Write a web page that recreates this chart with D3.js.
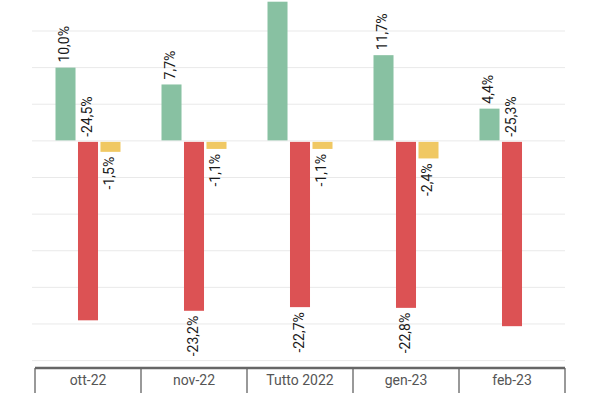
<!DOCTYPE html>
<html>
<head>
<meta charset="utf-8">
<script src="https://cdn.jsdelivr.net/npm/d3@7"></script>
<style>
  body { margin: 0; background: #fff; }
  text { font-family: Roboto, "Noto Sans", sans-serif; }
</style>
</head>
<body>
<div id="chart"></div>
<script>
// Chart data
var categories = ["ott-22", "nov-22", "Tutto 2022", "gen-23", "feb-23"];
var seriesNames = ["verde", "rosso", "giallo"];
var greenValues = [10.0, 7.7, 19.0, 11.7, 4.4];
var redValues = [-24.5, -23.2, -22.7, -22.8, -25.3];
var yellowValues = [-1.5, -1.1, -1.1, -2.4, null];
var gridTicks = [-30, -25, -20, -15, -10, -5, 0, 5, 10, 15];

var colors = { verde: "#88c1a2", rosso: "#dc5254", giallo: "#f0c863" };

var svgWidth = 600;
var svgHeight = 400;

var svg = d3.select("#chart")
            .append("svg")
            .attr("width", svgWidth)
            .attr("height", svgHeight);

// Scales
var x = d3.scaleBand()
          .domain(categories)
          .range([35, 565]);

var xInner = d3.scaleBand()
               .domain(seriesNames)
               .range([0, 65])
               .paddingInner(0.11);

var y = d3.scaleLinear()
          .domain([-30, 15])
          .range([360.6, 31]);

// Gridlines
svg.append("g")
   .selectAll("line")
   .data(gridTicks)
   .enter()
   .append("line")
   .attr("x1", 32)
   .attr("x2", 565)
   .attr("y1", d => y(d))
   .attr("y2", d => y(d))
   .attr("stroke", "#e9e9e9")
   .attr("stroke-width", 1);

// Build rows for the bars
var rows = [];
categories.forEach((c, i) => {
  rows.push({ cat: c, s: "verde", v: greenValues[i] });
  rows.push({ cat: c, s: "rosso", v: redValues[i] });
  if (yellowValues[i] != null) rows.push({ cat: c, s: "giallo", v: yellowValues[i] });
});

function barX(d) {
  return x(d.cat) + (x.bandwidth() - 65) / 2 + xInner(d.s);
}

var bars = svg.append("g");
bars.selectAll("rect")
    .data(rows)
    .enter()
    .append("rect")
    .attr("x", d => barX(d))
    .attr("width", xInner.bandwidth())
    .attr("y", d => d.v >= 0 ? y(d.v) : y(0) + 1)
    .attr("height", d => Math.max(0, d.v >= 0 ? y(0) - y(d.v) - 0.5 : y(d.v) - y(0) - 1))
    .attr("fill", d => colors[d.s]);

// Value labels (rotated)
var fmt = v => v.toFixed(1).replace(".", ",") + "%";
var labels = svg.append("g");
rows.forEach(d => {
  var cx = barX(d) + xInner.bandwidth() / 2;
  var t = labels.append("text")
                .attr("font-size", 14)
                .attr("fill", "#1a1a1a")
                .attr("dominant-baseline", "middle")
                .text(fmt(d.v));
  var len = t.node().getComputedTextLength();
  var ly, anchor;
  if (d.v >= 0) {
    ly = y(d.v) - 5;
    anchor = "start";
    if (ly - len < 0) { t.remove(); return; }
  } else {
    ly = y(d.v) + 5;
    anchor = "end";
    if (ly + len > y(-30)) {
      // no room under the bar: put it above the zero line
      ly = y(0) - 4;
      anchor = "start";
    }
  }
  t.attr("text-anchor", anchor)
   .attr("transform", `translate(${cx}, ${ly}) rotate(-90)`);
});

// Category axis
var axisY = 368;
var xAxis = svg.append("g")
               .attr("transform", `translate(0, ${axisY})`)
               .call(d3.axisBottom(x).tickSize(0).tickPadding(7));
xAxis.select(".domain").remove();
xAxis.selectAll("text")
     .attr("font-size", 14)
     .attr("font-family", "Roboto, sans-serif")
     .attr("fill", "#555");

var edges = categories.map(c => x(c)).concat([x.range()[1]]);
svg.append("g")
   .selectAll("line")
   .data(edges)
   .enter()
   .append("line")
   .attr("x1", d => d)
   .attr("x2", d => d)
   .attr("y1", axisY)
   .attr("y2", axisY + 25)
   .attr("stroke", "#777")
   .attr("stroke-width", 1.5);

svg.append("line")
   .attr("x1", 35)
   .attr("x2", 565)
   .attr("y1", axisY)
   .attr("y2", axisY)
   .attr("stroke", "#666")
   .attr("stroke-width", 2.5);
</script>
</body>
</html>
